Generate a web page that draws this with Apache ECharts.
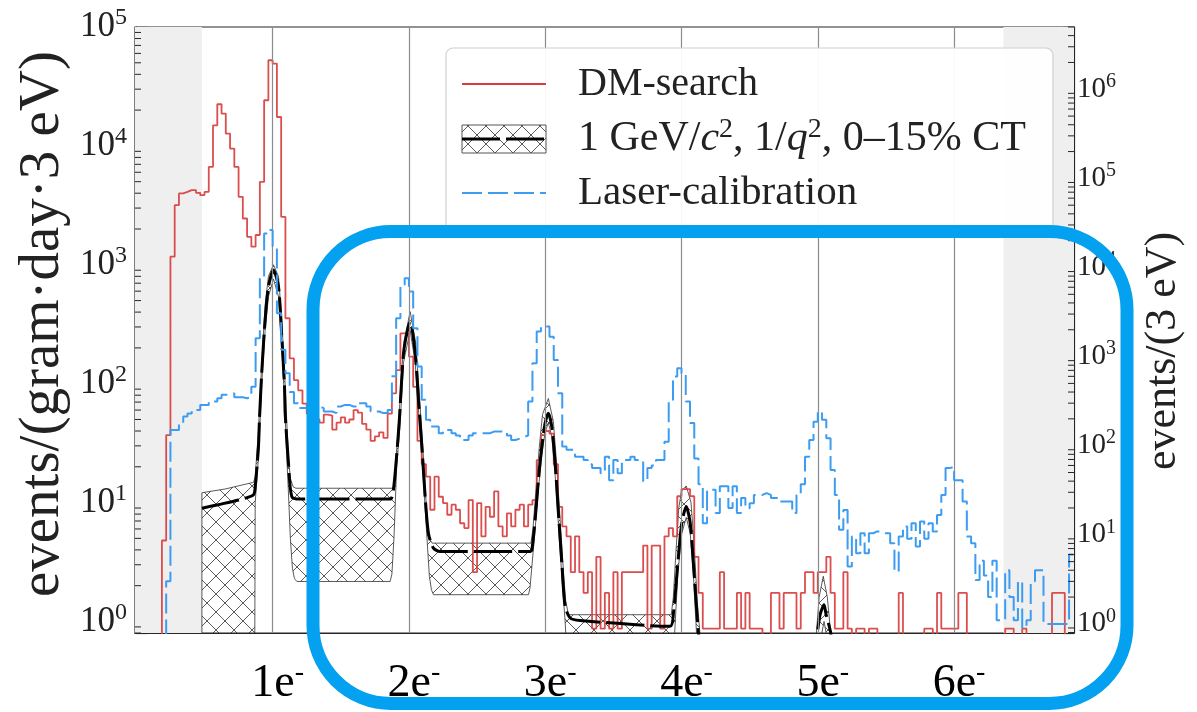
<!DOCTYPE html>
<html>
<head>
<meta charset="utf-8">
<script src="https://cdn.jsdelivr.net/npm/echarts@6/dist/echarts.min.js"></script>
<style>
  html, body { margin: 0; padding: 0; background: #fff; }
  #chart { width: 1197px; height: 712px; }
</style>
</head>
<body>
<div id="chart"></div>
<script>
// Histogram binning: bin k covers [k, k+1] * BIN_WIDTH electrons
const BIN_WIDTH = 1 / 32;
const X_RANGE = [-0.01, 6.88];
const electronPeaks = [1, 2, 3, 4, 5, 6];
const maskedRegions = [[-0.01, 0.481], [6.362, 6.88]];

// DM-search rate, events/(gram·day·3 eV), one value per bin
const dmSearch = [
  0, 0, 0, 0, 0, 0, 4.8, 37, 1170, 3170,
  3980, 4100, 4250, 4250, 4030, 3850, 4100, 6660, 14900, 22400,
  18700, 12700, 9500, 6660, 3730, 2450, 1720, 1420, 1780, 4980,
  24200, 52500, 49200, 17500, 2530, 355, 163, 107, 88, 68,
  56, 52, 50, 47, 55, 54, 41, 47, 52, 47,
  50, 60, 57, 46, 41, 33, 36, 39, 35, 56,
  83, 130, 265, 265, 169, 94, 33, 21, 16.5, 8.7,
  16.5, 11.2, 9.9, 7.9, 9.6, 8.7, 6.7, 6.1, 10.5, 2.6,
  9.9, 5.2, 9.2, 7.6, 12.4, 6.3, 5.2, 8.1, 6.3, 8.7,
  9.6, 6.3, 9.6, 10.5, 22.8, 37, 40, 38, 21, 9.2,
  6.3, 5.2, 2.6, 5.2, 2.6, 1.74, 2.6, 0.87, 3.5, 0.87,
  1.74, 0.87, 2.6, 0.87, 2.6, 2.6, 2.6, 2.6, 2.6, 4.35,
  0.87, 4.35, 4.35, 0.87, 5.2, 6.1, 5.2, 11.3, 13, 13,
  11.3, 3.5, 1.74, 0.87, 0.87, 0.87, 0.87, 2.6, 0.87, 0.87,
  0.87, 1.74, 0.87, 1.74, 0.87, 0.87, 0.87, 0, 0, 1.74,
  1.74, 0.87, 1.74, 1.74, 1.74, 0.87, 1.74, 2.6, 2.6, 1.74,
  2.6, 2.6, 3.5, 1.74, 0.87, 0.87, 2.6, 0.87, 0, 0.87,
  0.87, 0, 0.87, 0.87, 0, 0, 0, 0, 0, 1.74,
  0, 0, 0, 0, 0, 0.87, 0.87, 0, 1.74, 0.87,
  0.87, 0.87, 0.87, 1.74, 1.74, 0, 0, 0, 0, 0,
  0, 0, 0, 0, 0.87, 0.87, 0, 0, 0.87, 0,
  0, 0, 0, 0, 0, 1.74, 1.74, 1.74, 0, 0
];

// Laser-calibration counts, events/(3 eV), one value per bin (right axis)
const laserCalibration = [
  0, 0, 0, 0, 0, 0, 0, 3.0, 150, 150,
  179, 212, 230, 252, 252, 287, 287, 313, 313, 341,
  372, 372, 388, 350, 350, 341, 350, 460, 1610, 7910,
  24000, 26400, 17200, 3070, 1190, 651, 400, 300, 264, 264,
  252, 275, 275, 264, 242, 242, 232, 275, 287, 287,
  275, 275, 300, 300, 275, 242, 242, 232, 232, 252,
  600, 2700, 6380, 7590, 5360, 2080, 772, 327, 195, 164,
  164, 138, 150, 150, 138, 130, 116, 116, 130, 138,
  138, 138, 138, 144, 144, 144, 144, 130, 116, 120,
  125, 130, 313, 843, 1910, 2170, 2170, 1670, 918, 388,
  98, 90, 90, 75, 75, 69, 62, 56, 56, 49,
  75, 41, 69, 49, 69, 69, 75, 69, 69, 40,
  56, 60, 69, 69, 111, 313, 597, 741, 651, 313,
  180, 72, 37, 13.5, 32, 32, 17.5, 35, 35, 20,
  35, 17.5, 25.8, 19.9, 22.6, 28, 28, 29.3, 28, 25.8,
  25.8, 23.6, 23.6, 23.6, 17.5, 28, 37, 75, 116, 186,
  242, 195, 121, 53.5, 28, 11.4, 19, 4.4, 9.55, 6.2,
  10.4, 6.2, 10.4, 10.9, 10.9, 10.4, 10.4, 8.05, 3.87, 9.55,
  12.4, 9, 13.5, 7.4, 14.1, 9, 13.5, 10.9, 16.7, 28,
  56, 58, 41, 41, 23.6, 9.55, 8.05, 3.1, 5.1, 3.5,
  2.0, 5.1, 1.1, 1.1, 4.0, 2.0, 1.1, 3.0, 0.9, 1.1,
  3.0, 4.0, 4.0, 1.0, 1.0, 1.0, 1.0, 1.0, 1.0, 6.0
];

// Signal model, 1 GeV/c², 1/q²: central curve
const modelX = [0.481, 0.60, 0.75, 0.859, 0.872, 0.896, 0.903, 0.921, 0.945, 0.969,
  1.006, 1.043, 1.067, 1.087, 1.092, 1.116, 1.141, 1.202, 1.862, 1.886,
  1.91, 1.93, 1.945, 1.965, 2.009, 2.046, 2.070, 2.095, 2.119, 2.143,
  2.180, 2.229, 2.889, 2.902, 2.926, 2.950, 2.975, 2.999, 3.023, 3.048,
  3.073, 3.097, 3.122, 3.146, 3.183, 3.256, 3.916, 3.941, 3.973, 4.002,
  4.035, 4.064, 4.087, 4.124, 4.16, 4.95, 4.997, 5.017, 5.046, 5.061,
  5.095, 5.13, 6.88];
const modelRate = [8.97, 9.6, 10.5, 11.6, 13.6, 29.6, 49.5, 130, 344, 653,
  902, 653, 248, 94, 56, 21.4, 11.2, 10.7, 10.7, 12.8,
  25, 50, 100, 200, 332, 180, 73, 29.6, 11.2, 5.53,
  4.14, 3.88, 3.88, 4.0, 7.16, 15.5, 29.6, 46.5, 56.4, 43.5,
  21.4, 8.15, 3.10, 1.34, 1.07, 1.02, 0.91, 1.18, 3.10, 6.71,
  9.25, 6.71, 3.10, 0.80, 0.3, 0.3, 0.80, 1.14, 1.38, 1.14,
  0.80, 0.3, 0.3];

// 0–15% charge-transfer band: upper edge
const bandUpperX = [0.481, 0.481, 0.65, 0.860, 0.872, 0.896, 0.921, 0.945, 0.969, 1.006,
  1.043, 1.067, 1.087, 1.103, 1.116, 1.13, 1.15, 1.17, 1.88, 1.895,
  1.91, 1.93, 1.945, 1.965, 2.009, 2.05, 2.075, 2.10, 2.12, 2.135,
  2.15, 2.17, 2.895, 2.91, 2.93, 2.955, 2.98, 3.023, 3.06, 3.085,
  3.11, 3.135, 3.15, 3.17, 3.925, 3.94, 3.96, 3.98, 4.0, 4.035,
  4.07, 4.095, 4.115, 4.135, 4.16, 4.95, 4.99, 5.01, 5.04, 5.07,
  5.095, 5.13, 6.88];
const bandUpper = [0.3, 12.1, 13.0, 14.8, 16.5, 41, 158, 460, 800, 1000,
  800, 340, 130, 49, 24, 16, 13.6, 13.2, 13.2, 14,
  28, 60, 120, 230, 403, 220, 85, 32, 13, 7,
  5, 4.56, 4.56, 6, 12, 28, 55, 75, 48, 20,
  7, 2.5, 1.5, 1.14, 1.14, 1.6, 4, 9, 12.5, 13.8,
  10, 4, 1.5, 0.8, 0.3, 0.3, 0.8, 1.6, 2.4, 1.6,
  0.8, 0.3, 0.3];

// 0–15% charge-transfer band: lower edge
const bandLowerX = [0.481, 0.868, 0.872, 0.896, 0.921, 0.945, 0.969, 1.006, 1.043, 1.067,
  1.087, 1.10, 1.116, 1.13, 1.145, 1.16, 1.178, 1.862, 1.875, 1.89,
  1.91, 1.935, 1.96, 2.009, 2.046, 2.07, 2.095, 2.119, 2.135, 2.15,
  2.165, 2.18, 2.877, 2.888, 2.902, 2.926, 2.95, 2.975, 2.999, 3.023,
  3.048, 3.073, 3.097, 3.122, 3.146, 3.17, 3.93, 3.95, 3.973, 4.002,
  4.035, 4.064, 4.087, 4.11, 4.14, 5.0, 5.02, 5.046, 5.07, 5.1, 6.88];
const bandLower = [0.3, 0.3, 10, 24, 105, 280, 540, 760, 540, 200,
  75, 30, 12, 5, 2.8, 2.3, 2.17, 2.17, 2.5, 5,
  20, 45, 150, 280, 150, 60, 24, 9, 4.5, 2.4,
  1.85, 1.68, 1.68, 1.9, 2.9, 6, 13, 25, 39, 47,
  36, 17, 6.5, 2.4, 1.0, 0.3, 0.3, 0.8, 2.5, 5.5,
  7.5, 5.5, 2.5, 0.8, 0.3, 0.3, 0.7, 1.0, 0.7, 0.3, 0.3];

const LEFT_RANGE = [0.8, 1e5];
const RIGHT_RANGE = [0.79, 5e6];

const RED = '#d83b3b';
const BLUE = '#3c9cf2';
const SERIF = '"Liberation Serif", "DejaVu Serif", serif';
const LEGEND_Z = 100;

// Empty bins sit below the log axis; draw them at a floor under the visible range
const EMPTY_FLOOR = 0.05;
function histogramSteps(counts) {
  const pts = counts.map((c, k) => [k * BIN_WIDTH, c > 0 ? c : EMPTY_FLOOR]);
  const last = counts[counts.length - 1];
  pts.push([counts.length * BIN_WIDTH, last > 0 ? last : EMPTY_FLOOR]);
  return pts;
}

// Cross-hatch tile for the model band
function makeHatch() {
  const s = 18;
  const c = document.createElement('canvas');
  c.width = s; c.height = s;
  const g = c.getContext('2d');
  g.strokeStyle = 'rgba(40,40,40,0.85)';
  g.lineWidth = 0.9;
  g.beginPath();
  g.moveTo(-2, -2); g.lineTo(s + 2, s + 2);
  g.moveTo(s + 2, -2); g.lineTo(-2, s + 2);
  g.stroke();
  return c;
}
const hatchTile = makeHatch();

// Minor log ticks (2..9 × 10^n) inside each axis range
function minorTicks(range) {
  const out = [];
  for (let n = -1; n <= 7; n++) {
    for (let m = 2; m <= 9; m++) {
      const v = m * Math.pow(10, n);
      if (v >= range[0] && v <= range[1]) out.push(v);
    }
  }
  return out;
}

function powerLabel(v) {
  const e = Math.log10(v);
  const r = Math.round(e);
  if (Math.abs(e - r) > 1e-6) return '';
  return '{b|10}{s|' + r + '}';
}

const chart = echarts.init(document.getElementById('chart'), null, { renderer: 'canvas' });

const option = {
  animation: false,
  backgroundColor: '#fff',
  grid: {
    left: 135, right: 123, top: 27, bottom: 79,
    show: true, borderColor: '#262626', borderWidth: 1.2, backgroundColor: 'transparent'
  },
  xAxis: {
    type: 'value', min: X_RANGE[0], max: X_RANGE[1],
    axisLine: { show: true, onZero: false, lineStyle: { color: '#262626', width: 1.2 } },
    axisTick: { show: false },
    splitLine: { show: false },
    axisLabel: {
      customValues: electronPeaks,
      margin: 26,
      formatter: v => '{p|}{b|' + v + 'e}{s|-}',
      rich: {
        p: { width: 10 },
        b: { fontFamily: SERIF, fontSize: 46, color: '#000' },
        s: { fontFamily: SERIF, fontSize: 28, color: '#000', padding: [0, 0, 22, 0] }
      }
    }
  },
  yAxis: [
    {
      type: 'log', logBase: 10, min: LEFT_RANGE[0], max: LEFT_RANGE[1], position: 'left',
      axisLine: { show: true, lineStyle: { color: '#262626', width: 1.2 } },
      axisTick: { show: true, inside: true, length: 11, lineStyle: { color: '#262626', width: 1.2 } },
      splitLine: { show: false },
      axisLabel: {
        margin: 8, formatter: powerLabel,
        rich: {
          b: { fontFamily: SERIF, fontSize: 35, color: '#222' },
          s: { fontFamily: SERIF, fontSize: 24, color: '#222', padding: [0, 0, 18, 0] }
        }
      }
    },
    {
      type: 'log', logBase: 10, min: RIGHT_RANGE[0], max: RIGHT_RANGE[1], position: 'right',
      axisLine: { show: true, lineStyle: { color: '#262626', width: 1.2 } },
      axisTick: { show: true, inside: true, length: 11, lineStyle: { color: '#262626', width: 1.2 } },
      splitLine: { show: false },
      axisLabel: {
        margin: 3, formatter: powerLabel,
        rich: {
          b: { fontFamily: SERIF, fontSize: 29, color: '#222' },
          s: { fontFamily: SERIF, fontSize: 20, color: '#222', padding: [0, 0, 15, 0] }
        }
      }
    }
  ],
  series: [
    {
      // masked energy ranges and electron-peak guide lines
      type: 'line', z: 0, data: [], silent: true,
      markArea: {
        silent: true,
        itemStyle: { color: '#efefef' },
        data: maskedRegions.map(r => [{ xAxis: r[0] }, { xAxis: r[1] }])
      },
      markLine: {
        silent: true, symbol: ['none', 'none'],
        label: { show: false },
        lineStyle: { color: '#8c8c8c', width: 1.2, type: 'solid' },
        data: electronPeaks.map(v => ({ xAxis: v }))
      }
    },
    {
      // hatched 0–15% CT band
      type: 'custom', z: 2, silent: true,
      data: [[modelX[0], modelRate[0]]],
      renderItem: (params, api) => {
        const pts = [];
        bandUpperX.forEach((x, i) => pts.push(api.coord([x, bandUpper[i]])));
        for (let i = bandLowerX.length - 1; i >= 0; i--) pts.push(api.coord([bandLowerX[i], bandLower[i]]));
        const cs = params.coordSys;
        return {
          type: 'group',
          clipPath: { type: 'rect', shape: { x: cs.x, y: cs.y, width: cs.width, height: cs.height } },
          children: [{
            type: 'polygon',
            shape: { points: pts },
            style: { fill: { image: hatchTile, repeat: 'repeat' }, stroke: 'rgba(50,50,50,0.8)', lineWidth: 1 }
          }]
        };
      }
    },
    {
      name: 'DM-search', type: 'line', step: 'end', z: 3,
      showSymbol: false, clip: true,
      lineStyle: { color: RED, width: 1.8, opacity: 0.9 },
      data: histogramSteps(dmSearch)
    },
    {
      name: '1 GeV/c², 1/q², 0–15% CT', type: 'line', z: 4,
      showSymbol: false, clip: true, smooth: 0.25,
      lineStyle: { color: '#000', width: 3, type: [38, 6] },
      data: modelX.map((x, i) => [x, modelRate[i]])
    },
    {
      name: 'Laser-calibration', type: 'line', step: 'end', z: 5, yAxisIndex: 1,
      showSymbol: false, clip: true,
      lineStyle: { color: BLUE, width: 2, type: [20, 6] },
      data: histogramSteps(laserCalibration)
    },
    {
      // minor ticks, left axis
      type: 'custom', z: 6, silent: true, clip: false,
      data: minorTicks(LEFT_RANGE).map(v => [X_RANGE[0], v]),
      renderItem: (params, api) => {
        const p = api.coord([api.value(0), api.value(1)]);
        return { type: 'line', shape: { x1: p[0], y1: p[1], x2: p[0] + 6, y2: p[1] },
                 style: { stroke: '#262626', lineWidth: 1 } };
      }
    },
    {
      // minor ticks, right axis
      type: 'custom', z: 6, silent: true, clip: false, yAxisIndex: 1,
      data: minorTicks(RIGHT_RANGE).map(v => [X_RANGE[1], v]),
      renderItem: (params, api) => {
        const p = api.coord([api.value(0), api.value(1)]);
        return { type: 'line', shape: { x1: p[0] - 6, y1: p[1], x2: p[0], y2: p[1] },
                 style: { stroke: '#262626', lineWidth: 1 } };
      }
    }
  ],
  graphic: [
    // axis titles
    {
      type: 'text', x: 43, y: 324, rotation: Math.PI / 2, z: 50,
      style: { text: 'events/(gram·day·3 eV)', font: '57px ' + SERIF, fill: '#222',
               align: 'center', verticalAlign: 'middle' }
    },
    {
      type: 'text', x: 1163, y: 351, rotation: Math.PI / 2, z: 50,
      style: { text: 'events/(3 eV)', font: '44px ' + SERIF, fill: '#222',
               align: 'center', verticalAlign: 'middle' }
    },
    // legend
    { type: 'rect', z: LEGEND_Z, shape: { x: 446, y: 48, width: 607, height: 186, r: 7 },
      style: { fill: 'rgba(255,255,255,0.94)', stroke: '#d0d0d0', lineWidth: 1.2 } },
    { type: 'line', z: LEGEND_Z + 1, shape: { x1: 462, y1: 84, x2: 546, y2: 84 },
      style: { stroke: RED, lineWidth: 2 } },
    { type: 'text', z: LEGEND_Z + 1, x: 578, y: 84,
      style: { text: 'DM-search', font: '40px ' + SERIF, fill: '#222', verticalAlign: 'middle' } },
    { type: 'rect', z: LEGEND_Z + 1, shape: { x: 462, y: 125, width: 84, height: 28 },
      style: { fill: { image: hatchTile, repeat: 'repeat' }, stroke: '#555', lineWidth: 1 } },
    { type: 'line', z: LEGEND_Z + 2, shape: { x1: 462, y1: 139, x2: 546, y2: 139 },
      style: { stroke: '#000', lineWidth: 3, lineDash: [38, 6] } },
    { type: 'text', z: LEGEND_Z + 1, x: 578, y: 139,
      style: {
        text: '{n|1 GeV/}{i|c}{s|2}{n|, 1/}{i|q}{s|2}{n|, 0–15% CT}',
        verticalAlign: 'middle',
        rich: {
          n: { fontFamily: SERIF, fontSize: 42, fill: '#222' },
          i: { fontFamily: SERIF, fontSize: 42, fontStyle: 'italic', fill: '#222' },
          s: { fontFamily: SERIF, fontSize: 28, fill: '#222', padding: [0, 0, 19, 0] }
        }
      } },
    { type: 'line', z: LEGEND_Z + 1, shape: { x1: 462, y1: 193, x2: 546, y2: 193 },
      style: { stroke: BLUE, lineWidth: 2, lineDash: [20, 6] } },
    { type: 'text', z: LEGEND_Z + 1, x: 578, y: 193,
      style: { text: 'Laser-calibration', font: '41px ' + SERIF, fill: '#222', verticalAlign: 'middle' } },
    // highlight frame
    {
      type: 'rect', z: 200, silent: true,
      shape: { x: 313, y: 231.5, width: 814, height: 472, r: 78 },
      style: { fill: 'none', stroke: '#03a1ef', lineWidth: 13 }
    }
  ]
};

chart.setOption(option);
</script>
</body>
</html>
